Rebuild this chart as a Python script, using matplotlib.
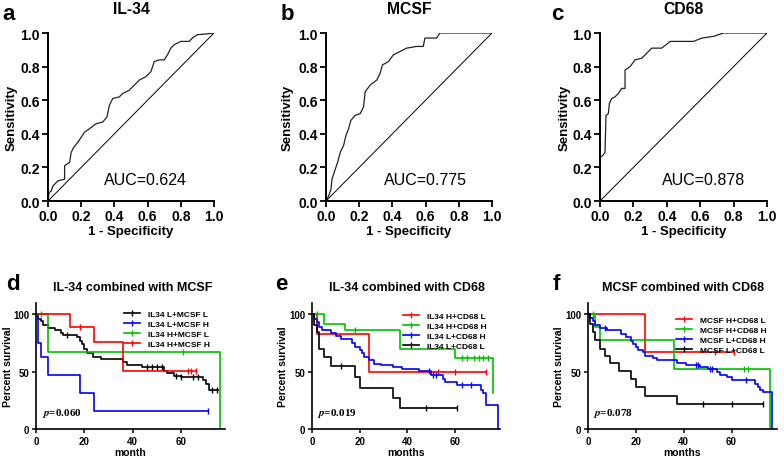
import matplotlib
matplotlib.use('Agg')
import matplotlib.pyplot as plt
from matplotlib.lines import Line2D
import numpy as np

plt.rcParams['font.family'] = ['Liberation Sans', 'DejaVu Sans']
plt.rcParams['font.weight'] = 'bold'
plt.rcParams['axes.labelweight'] = 'bold'
plt.rcParams['mathtext.fontset'] = 'stix'

# ---------------- ROC data ----------------
roc_a_x = [0.0, 0.006, 0.02, 0.03, 0.06, 0.10, 0.10, 0.13, 0.14, 0.155, 0.18, 0.20, 0.22, 0.25,
           0.29, 0.33, 0.355, 0.37, 0.39, 0.43, 0.45, 0.49, 0.51, 0.55, 0.59, 0.62, 0.64, 0.67,
           0.70, 0.72, 0.74, 0.76, 0.80, 0.85, 0.87, 0.90, 0.96, 1.0]
roc_a_y = [0.0, 0.05, 0.06, 0.09, 0.12, 0.13, 0.21, 0.23, 0.29, 0.32, 0.35, 0.38, 0.41, 0.43,
           0.46, 0.47, 0.50, 0.57, 0.61, 0.62, 0.64, 0.66, 0.68, 0.72, 0.74, 0.77, 0.83, 0.84,
           0.84, 0.87, 0.91, 0.93, 0.95, 0.95, 0.97, 0.99, 0.995, 1.0]

roc_b_x = [0.0, 0.016, 0.03, 0.036, 0.056, 0.07, 0.086, 0.106, 0.12, 0.136, 0.15, 0.176, 0.206,
           0.226, 0.236, 0.266, 0.306, 0.326, 0.34, 0.376, 0.406, 0.446, 0.486, 0.546, 0.586,
           0.596, 0.666, 0.686, 1.0]
roc_b_y = [0.0, 0.03, 0.07, 0.13, 0.19, 0.23, 0.29, 0.33, 0.39, 0.43, 0.48, 0.51, 0.52,
           0.56, 0.65, 0.69, 0.72, 0.76, 0.81, 0.83, 0.87, 0.89, 0.91, 0.92, 0.92,
           0.97, 0.97, 1.0, 1.0]

roc_c_x = [0.0, 0.0, 0.016, 0.03, 0.036, 0.05, 0.056, 0.07, 0.09, 0.11, 0.13, 0.15, 0.15, 0.18,
           0.21, 0.25, 0.28, 0.31, 0.37, 0.42, 0.56, 0.61, 0.68, 0.74, 1.0]
roc_c_y = [0.0, 0.26, 0.27, 0.29, 0.51, 0.52, 0.58, 0.61, 0.62, 0.64, 0.67, 0.67, 0.78, 0.80,
           0.84, 0.85, 0.88, 0.91, 0.91, 0.95, 0.95, 0.97, 0.98, 1.0, 1.0]

roc_titles = ['IL-34', 'MCSF', 'CD68']
roc_auc = ['AUC=0.624', 'AUC=0.775', 'AUC=0.878']
roc_letters = ['a', 'b', 'c']
roc_ticks = [0.0, 0.2, 0.4, 0.6, 0.8, 1.0]

# ---------------- Kaplan-Meier data ----------------
# panel d
d_black_t = [0, 0.5, 1, 2, 3, 5, 8, 10.5, 11, 17, 18, 19, 20, 21, 23.5, 27, 36, 37.5, 44, 53, 54, 57,
             60, 69, 70.5, 71.5, 75.5]
d_black_s = [100, 98, 96, 94, 91, 88, 86, 84, 82, 80, 77, 74, 70, 66, 63, 61, 58.5, 56, 54, 51, 49,
             46.5, 45, 42.5, 39.5, 34, 34]
d_black_c = [13, 46, 48, 50, 52, 58, 60, 65, 67, 73, 75]
d_blue_t = [0, 1, 2, 5, 18, 24, 71]
d_blue_s = [100, 75, 63, 47, 31, 16, 16]
d_blue_c = [71]
d_green_t = [0, 5, 76]
d_green_s = [100, 67, 0]
d_green_c = [2, 61]
d_red_t = [0, 14, 24, 36, 66]
d_red_s = [100, 89, 76, 51, 51]
d_red_c = [18, 63, 64, 66]

# panel e
e_red_t = [0, 2, 24, 73]
e_red_s = [100, 83, 50, 50]
e_red_c = [53, 60, 73]
e_green_t = [0, 5, 14, 37, 60, 76]
e_green_s = [100, 92, 86, 70, 62, 31]
e_green_c = [2, 18, 63, 65, 68, 70, 72, 74]
e_blue_t = [0, 1, 2, 3, 4, 8, 10, 12, 17, 18, 20, 21, 22, 24, 26, 29, 34, 38, 45, 50, 55, 56, 61,
            71, 72, 73, 78]
e_blue_s = [100, 96, 93, 89, 86, 84, 81, 79, 75, 72, 69, 66, 63, 60, 57, 56, 54, 52, 51, 47, 44, 41,
            38, 34, 31, 21, 0]
e_blue_c = [49, 51, 52, 63, 67]
e_black_t = [0, 1, 2, 3, 5, 8, 18, 20, 34, 37, 61]
e_black_s = [100, 91, 85, 70, 63, 55, 45, 36, 27, 18, 18]
e_black_c = [12, 48, 61]

# panel f
f_red_t = [0, 24, 61]
f_red_s = [100, 67, 67]
f_red_c = [53, 61]
f_green_t = [0, 3, 5, 36, 76]
f_green_s = [100, 89, 78, 52, 0]
f_green_c = [2, 65, 67]
f_blue_t = [0, 1, 2, 3, 5, 8, 14, 16, 18, 19, 20, 21, 23, 24, 27, 29, 37, 41, 47, 50, 54, 55, 58,
            60, 70, 71, 72, 73, 77]
f_blue_s = [100, 97, 94, 91, 88, 86, 83, 80, 77, 74, 72, 69, 67, 64, 62, 60, 58, 56, 54, 52, 50, 47,
            45, 43, 39, 37, 34, 32, 0]
f_blue_c = [7, 45, 46, 51, 52, 66]
f_black_t = [0, 1, 2, 3, 5, 7, 9, 13, 18, 20, 24, 37, 73]
f_black_s = [100, 92, 85, 78, 70, 64, 58, 51, 44, 37, 29, 22, 22]
f_black_c = [48, 60, 73]

km_titles = ['IL-34 combined with MCSF', 'IL-34 combined with CD68', 'MCSF combined with CD68']
km_letters = ['d', 'e', 'f']
km_xlabels = ['month', 'months', 'months']
km_pvals = ['0.060', '0.019', '0.078']
km_xticks = [0, 20, 40, 60]
km_yticks = [0, 50, 100]

labels_d = ['IL34 L+MCSF L', 'IL34 L+MCSF H', 'IL34 H+MCSF L', 'IL34 H+MCSF H']
labels_e = ['IL34 H+CD68 L', 'IL34 H+CD68 H', 'IL34 L+CD68 H', 'IL34 L+CD68 L']
labels_f = ['MCSF H+CD68 L', 'MCSF H+CD68 H', 'MCSF L+CD68 H', 'MCSF L+CD68 L']

BLACK, BLUE, GREEN, RED = '#000000', '#0000ff', '#00c000', '#ff0000'

km_series = [
    [(d_black_t, d_black_s, d_black_c, BLACK), (d_blue_t, d_blue_s, d_blue_c, BLUE),
     (d_green_t, d_green_s, d_green_c, GREEN), (d_red_t, d_red_s, d_red_c, RED)],
    [(e_red_t, e_red_s, e_red_c, RED), (e_green_t, e_green_s, e_green_c, GREEN),
     (e_blue_t, e_blue_s, e_blue_c, BLUE), (e_black_t, e_black_s, e_black_c, BLACK)],
    [(f_red_t, f_red_s, f_red_c, RED), (f_green_t, f_green_s, f_green_c, GREEN),
     (f_blue_t, f_blue_s, f_blue_c, BLUE), (f_black_t, f_black_s, f_black_c, BLACK)],
]
km_labels = [labels_d, labels_e, labels_f]

# ---------------- layout (pixels) ----------------
W, H = 784, 460
fig = plt.figure(figsize=(7.84, 4.6), dpi=100)


def ax_at(x0, y_top, x1, y_bot):
    return fig.add_axes([x0 / W, 1 - y_bot / H, (x1 - x0) / W, (y_bot - y_top) / H])


def ftext(x, y, s, **kw):
    fig.text(x / W, 1 - y / H, s, **kw)


roc_boxes = [(48, 34, 214, 202), (326, 34, 492, 202), (600, 34, 767, 202)]
roc_letter_pos = [(9, 15), (287, 15), (557, 15)]
roc_ylab_x = [12, 288, 565]
roc_auc_x = [0.585, 0.60, 0.62]
roc_data = [(roc_a_x, roc_a_y), (roc_b_x, roc_b_y), (roc_c_x, roc_c_y)]

for i in range(3):
    x0, yt, x1, yb = roc_boxes[i]
    ax = ax_at(x0, yt, x1, yb)
    rx, ry = roc_data[i]
    ax.plot(rx, ry, color='#222222', lw=0.9, solid_joinstyle='miter')
    ax.plot([0, 1], [0, 1], color='black', lw=0.7)
    ax.set_xlim(0, 1)
    ax.set_ylim(0, 1)
    ax.set_xticks(roc_ticks)
    ax.set_yticks(roc_ticks)
    ax.set_xticklabels([f'{t:.1f}' for t in roc_ticks])
    ax.set_yticklabels([f'{t:.1f}' for t in roc_ticks])
    for sp in ['top', 'right']:
        ax.spines[sp].set_visible(False)
    for sp in ['left', 'bottom']:
        ax.spines[sp].set_linewidth(1.4)
    ax.tick_params(direction='out', length=4, width=1.3, labelsize=10, pad=2)
    ax.set_ylabel('Sensitivity', fontsize=9.5)
    ax.yaxis.set_label_coords((roc_ylab_x[i] - x0) / (x1 - x0), 0.5)
    ax.set_xlabel('1 - Specificity', fontsize=9.5)
    ax.xaxis.set_label_coords(0.5, -(232 - yb) / (yb - yt))
    ax.xaxis.label.set_verticalalignment('center')
    ax.yaxis.label.set_verticalalignment('center')
    ax.text(roc_auc_x[i], 0.13, roc_auc[i], fontsize=11.5, fontweight='normal',
            ha='center', va='center', transform=ax.transAxes)
    ftext((x0 + x1) / 2, 10, roc_titles[i], fontsize=11.3, fontweight='bold', ha='center', va='center')
    lx, ly = roc_letter_pos[i]
    ftext(lx, ly, roc_letters[i], fontsize=16, fontweight='bold', ha='center', va='center')

km_boxes = [(36, 304, 224.5, 430), (312, 304, 500, 430), (588, 304, 777, 430)]
km_xmax = [78, 79, 79]
km_letter_pos = [(13, 285), (281, 285), (556, 285)]
km_title_x = [133, 407, 683]
km_ylab_x = [8, 283, 559]
km_leg_pos = [(124, 311), (403, 313), (676, 317)]
km_p_x = [2.5, 2.0, 2.0]

for i in range(3):
    x0, yt, x1, yb = km_boxes[i]
    ax = ax_at(x0, yt, x1, yb)
    handles = []
    for (t, s, c, col) in km_series[i]:
        ax.step(t, s, where='post', color=col, lw=1.2)
        t_arr = np.asarray(t, dtype=float)
        s_arr = np.asarray(s, dtype=float)
        idx = np.searchsorted(t_arr, np.asarray(c, dtype=float), side='right') - 1
        ax.plot(c, s_arr[idx], linestyle='none', marker='|', ms=4, mew=1.0, color=col)
        handles.append(Line2D([], [], color=col, lw=1.2, marker='|', ms=4, mew=1.0))
    ax.set_xlim(0, km_xmax[i])
    ax.set_ylim(0, 110)
    ax.set_xticks(km_xticks)
    ax.set_yticks(km_yticks)
    for sp in ['top', 'right']:
        ax.spines[sp].set_visible(False)
    for sp in ['left', 'bottom']:
        ax.spines[sp].set_linewidth(1.2)
    ax.tick_params(direction='out', length=3, width=1.1, labelsize=7, pad=2)
    ax.set_ylabel('Percent survival', fontsize=7.5)
    ax.yaxis.set_label_coords((km_ylab_x[i] - x0) / (x1 - x0), 0.5)
    ax.yaxis.label.set_verticalalignment('center')
    ax.set_xlabel(km_xlabels[i], fontsize=7.5)
    ax.xaxis.set_label_coords(0.5, -(453 - yb) / (yb - yt))
    ax.xaxis.label.set_verticalalignment('center')
    ax.text(km_p_x[i], 14, r'$\mathit{p}$=' + km_pvals[i], fontsize=8, fontweight='bold',
            family=['Liberation Serif'], ha='left', va='center')
    lx, ly = km_leg_pos[i]
    ax.legend(handles, km_labels[i], loc='upper left', bbox_to_anchor=(lx / W, 1 - ly / H),
              bbox_transform=fig.transFigure, frameon=False, fontsize=6, handlelength=1.9,
              handletextpad=1.0, labelspacing=0.25, borderpad=0, borderaxespad=0)
    ftext(km_title_x[i], 288, km_titles[i], fontsize=9, fontweight='bold', ha='center', va='center')
    lx, ly = km_letter_pos[i]
    ftext(lx, ly, km_letters[i], fontsize=16, fontweight='bold', ha='center', va='center')

fig.savefig('out.png', dpi=100)
